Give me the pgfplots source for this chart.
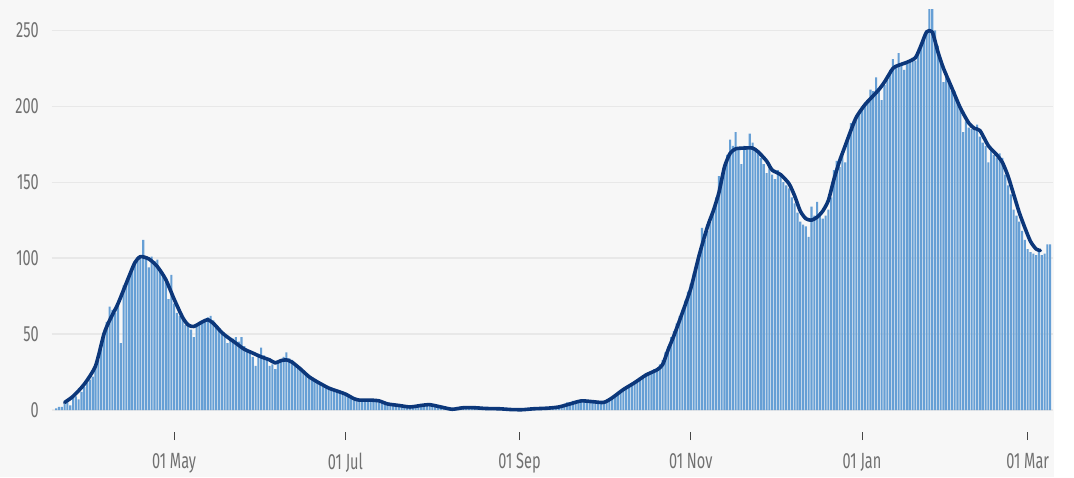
\documentclass[border=0pt]{standalone}
\usepackage{pgfplots}
\pgfplotsset{compat=1.18}
\usepackage{fontspec}
\setmainfont[FakeStretch=0.66]{Fira Sans}
\definecolor{bgc}{RGB}{247,247,247}
\definecolor{barc}{RGB}{102,159,213}
\definecolor{linec}{RGB}{12,55,122}
\definecolor{gridc}{RGB}{232,232,232}
\definecolor{labc}{RGB}{112,112,112}
\definecolor{tickc}{RGB}{70,70,70}
\begin{document}
\begin{tikzpicture}
\useasboundingbox (-52pt,-67pt) rectangle (1022pt,410pt);
\fill[bgc] (-52pt,-67pt) rectangle (1002pt,410pt);
\begin{axis}[
  at={(0pt,0pt)}, anchor=south west,
  scale only axis, width=1001pt, height=410pt,
  xmin=-43.5, xmax=313, ymin=0, ymax=270,
  axis x line*=bottom, axis y line*=left,
  axis line style={draw=none},
  ytick={0,50,100,150,200,250},
  ymajorgrids, grid style={gridc, line width=1.4pt},
  xtick={0,61,123,184,245,304},
  xticklabels={01 May,01 Jul,01 Sep,01 Nov,01 Jan,01 Mar},
  /pgf/number format/assume math mode=true,
  tick label style={font=\fontsize{22}{25}\selectfont, text=labc},
  ytick style={draw=none},
  tick align=outside, major tick length=8pt,
  xtick style={yshift=-22pt, draw=tickc, line width=1pt},
  yticklabel style={anchor=east, inner sep=0pt, xshift=-5pt},
  xticklabel style={anchor=north, inner sep=0pt, yshift=-35pt},
  clip=false,
]
\addplot[ybar, bar width=0.74, draw=none, fill=barc] coordinates {
(-42,1) (-41,2) (-40,2) (-39,4) (-38,5) (-37,3) (-36,8) (-35,9) (-34,7) (-33,12)
(-32,15) (-31,18) (-30,20) (-29,22) (-28,30) (-27,33) (-26,40) (-25,48) (-24,58) (-23,68)
(-22,66) (-21,64) (-20,70) (-19,44) (-18,82) (-17,85) (-16,90) (-15,93) (-14,96) (-13,98)
(-12,100) (-11,112) (-10,101) (-9,94) (-8,101) (-7,98) (-6,99) (-5,92) (-4,88) (-3,84)
(-2,73) (-1,89) (0,70) (1,64) (2,62) (3,60) (4,56) (5,55) (6,53) (7,48)
(8,56) (9,57) (10,58) (11,59) (12,61) (13,62) (14,59) (15,56) (16,53) (17,50)
(18,48) (19,44) (20,46) (21,47) (22,48) (23,45) (24,48) (25,42) (26,40) (27,38)
(28,35) (29,29) (30,37) (31,41) (32,36) (33,34) (34,29) (35,30) (36,27) (37,32)
(38,33) (39,35) (40,38) (41,34) (42,33) (43,30) (44,28) (45,27) (46,25) (47,23)
(48,22) (49,21) (50,19) (51,18) (52,17) (53,15) (54,15) (55,14) (56,14) (57,13)
(58,12) (59,12) (60,11) (61,10) (62,9) (63,8) (64,7) (65,7) (66,6) (67,7)
(68,6) (69,7) (70,7) (71,6) (72,6) (73,5) (74,5) (75,4) (76,4) (77,4)
(78,3) (79,3) (80,3) (81,2) (82,2) (83,2) (84,2) (85,3) (86,3) (87,3)
(88,4) (89,3) (90,4) (91,3) (92,3) (93,2) (94,2) (95,2) (96,1) (97,1)
(98,0) (99,0) (100,1) (101,1) (102,2) (103,2) (104,1) (105,2) (106,1) (107,2)
(108,1) (109,1) (110,1) (111,1) (112,1) (113,1) (114,0) (115,1) (116,1) (117,0)
(118,0) (119,0) (120,0) (121,1) (122,0) (123,0) (124,0) (125,1) (126,1) (127,1)
(128,1) (129,1) (130,1) (131,1) (132,2) (133,1) (134,1) (135,2) (136,2) (137,2)
(138,3) (139,4) (140,5) (141,5) (142,6) (143,6) (144,5) (145,6) (146,6) (147,5)
(148,5) (149,5) (150,5) (151,4) (152,5) (153,5) (154,6) (155,7) (156,8) (157,10)
(158,11) (159,12) (160,14) (161,15) (162,16) (163,17) (164,18) (165,19) (166,21) (167,22)
(168,24) (169,25) (170,24) (171,27) (172,26) (173,30) (174,33) (175,38) (176,42) (177,48)
(178,52) (179,57) (180,62) (181,66) (182,72) (183,78) (184,83) (185,90) (186,96) (187,100)
(188,120) (189,112) (190,118) (191,124) (192,132) (193,140) (194,154) (195,150) (196,160) (197,168)
(198,178) (199,174) (200,183) (201,172) (202,162) (203,174) (204,172) (205,182) (206,176) (207,172)
(208,170) (209,166) (210,162) (211,156) (212,160) (213,155) (214,152) (215,158) (216,154) (217,150)
(218,148) (219,146) (220,140) (221,136) (222,130) (223,124) (224,122) (225,121) (226,114) (227,134)
(228,128) (229,137) (230,128) (231,126) (232,128) (233,132) (234,140) (235,158) (236,164) (237,160)
(238,170) (239,163) (240,180) (241,189) (242,190) (243,193) (244,195) (245,198) (246,200) (247,204)
(248,211) (249,210) (250,219) (251,212) (252,204) (253,214) (254,220) (255,224) (256,231) (257,226)
(258,235) (259,228) (260,224) (261,228) (262,230) (263,232) (264,230) (265,235) (266,240) (267,244)
(268,250) (269,264) (270,264) (271,250) (272,240) (273,230) (274,216) (275,222) (276,218) (277,210)
(278,210) (279,204) (280,198) (281,183) (282,190) (283,186) (284,185) (285,186) (286,188) (287,180)
(288,176) (289,174) (290,163) (291,172) (292,168) (293,166) (294,169) (295,166) (296,155) (297,148)
(298,142) (299,132) (300,128) (301,124) (302,118) (303,112) (304,106) (305,104) (306,103) (307,102)
(308,104) (309,102) (310,103) (311,109) (312,109)
};
\addplot[linec, line width=3.6pt, smooth, tension=0.4, line cap=round, line join=round] coordinates {
(-39,5) (-36,9) (-32,17) (-28,29) (-25,50) (-23,59) (-20,70) (-16.5,86) (-14,97) (-12,101)
(-9,99.5) (-6,94.5) (-3,86) (0,73) (3,61) (5,56) (7,55) (10,58) (12,59.5) (14,57)
(17,51) (19,48) (22,44) (25,40) (28,37.5) (31,35) (34,33) (36,31) (38,32.5) (40,33)
(42,31.5) (45,27) (48,22) (51,18.5) (55,14.5) (58,12.5) (61,10.5) (64,7.5) (66,6.5) (70,6.5)
(73,6) (76,4) (80,3) (84,2) (88,3) (91,3.5) (95,2) (99,0.5) (103,1.5) (107,1.5)
(111,1) (116,0.8) (120,0.3) (124,0.2) (128,0.8) (133,1.2) (137,2) (141,4) (145,6) (149,5.5)
(153,5) (156,8) (160,13.5) (164,18) (168,23) (172,26.5) (174,30) (176,40) (178,49) (181,64)
(184,80) (187,102) (190,121) (192,131) (194,143) (196,160) (198,169) (200,172) (203,172.5) (206,172.5)
(208,170) (211,164) (213,158) (216,155) (219,149) (221,141) (223,131) (225,126) (227,125) (229,127)
(231,131) (233,138) (235,152) (237,164) (239,174) (241,184) (243,193) (246,201) (249,207) (251,211)
(253,216) (256,225) (258,227) (261,229) (264,232) (266,240) (268,249) (270,249) (272,236) (274,225)
(277,212) (280,199) (283,189) (285,185.5) (287,184) (290,174) (293,168) (295,163) (297,154) (299,142)
(301,130) (303,120) (305,111) (307,106) (308.5,105)
};
\end{axis}
\end{tikzpicture}
\end{document}
